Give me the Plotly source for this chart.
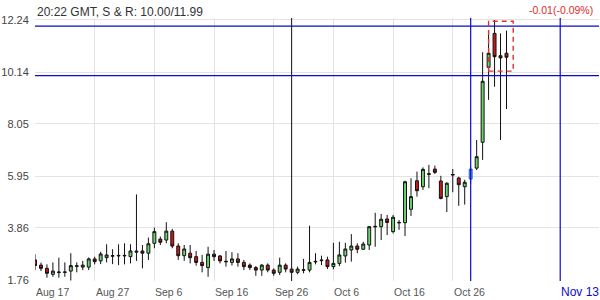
import pandas as pd
import plotly.graph_objects as go

# ---- data ----
start_date = "2023-08-17"
opens = [2.57, 2.36, 2.23, 1.99, 2.06, 2.07, 2.12, 2.31, 2.28, 2.28,
         2.61, 2.53, 2.66, 2.72, 2.73, 2.73, 2.70, 2.88, 2.93, 2.84,
         3.24, 3.41, 3.37, 3.73, 3.13, 2.74, 2.84, 2.70, 2.47, 2.26,
         2.80, 2.73, 2.49, 2.47, 2.61, 2.47, 2.36, 2.26, 2.16, 2.36,
         2.16, 2.07, 2.36, 2.20, 2.07, 2.15, 2.16, 2.49, 2.54, 2.57,
         2.30, 2.43, 2.73, 2.97, 3.13, 3.00, 3.17, 3.90, 3.91, 4.22,
         3.71, 4.06, 4.07, 4.61, 5.76, 5.52, 6.02, 6.23, 5.75, 5.12,
         5.99, 5.87, 5.52, 5.83, 6.27, 7.31, 10.33, 11.70, 10.80, 10.90]
highs = [2.80, 2.46, 2.39, 2.47, 2.66, 2.47, 2.84, 2.47, 2.53, 2.67,
         2.70, 2.90, 3.20, 3.00, 3.20, 3.24, 3.20, 5.21, 3.17, 3.47,
         3.87, 3.51, 4.09, 3.82, 3.24, 3.17, 3.17, 2.93, 2.77, 3.10,
         2.97, 2.77, 2.93, 2.88, 2.84, 2.57, 2.43, 2.32, 2.40, 2.43,
         2.23, 2.66, 2.43, 12.60, 2.30, 2.61, 3.95, 2.84, 2.74, 2.70,
         3.26, 3.30, 3.26, 3.61, 3.24, 3.30, 3.94, 4.47, 4.42, 4.38,
         4.38, 4.18, 5.76, 5.86, 6.13, 6.30, 6.40, 6.37, 5.96, 5.70,
         6.23, 5.92, 5.80, 6.30, 7.40, 10.94, 11.81, 12.24, 11.70, 11.81]
lows = [2.16, 2.12, 1.85, 1.89, 1.85, 1.89, 1.74, 2.07, 2.16, 2.16,
        2.39, 2.40, 2.47, 2.40, 2.36, 2.39, 2.43, 2.53, 2.23, 2.57,
        3.04, 3.17, 3.24, 3.04, 2.57, 2.53, 2.43, 2.34, 2.07, 1.89,
        2.53, 2.43, 2.30, 2.34, 2.30, 2.16, 2.16, 1.93, 1.93, 2.07,
        1.93, 1.96, 2.07, 1.70, 1.99, 2.03, 2.07, 2.39, 2.36, 2.20,
        2.19, 2.32, 2.46, 2.50, 2.84, 2.97, 2.97, 3.10, 3.37, 3.57,
        3.64, 3.78, 3.53, 4.34, 5.12, 5.39, 5.46, 6.03, 5.01, 4.50,
        5.30, 4.75, 4.80, 5.63, 6.19, 6.60, 9.02, 9.55, 7.40, 8.65]
closes = [2.34, 2.23, 2.03, 2.12, 2.08, 2.08, 2.34, 2.33, 2.36, 2.61,
          2.50, 2.81, 2.77, 2.74, 2.75, 2.75, 2.93, 2.92, 2.84, 3.22,
          3.71, 3.28, 3.73, 3.13, 2.74, 3.01, 2.66, 2.47, 2.34, 2.80,
          2.70, 2.53, 2.51, 2.61, 2.47, 2.30, 2.26, 2.16, 2.36, 2.16,
          2.03, 2.36, 2.20, 2.07, 2.20, 2.17, 2.47, 2.51, 2.56, 2.30,
          2.43, 2.77, 3.01, 3.13, 3.00, 3.21, 3.91, 3.92, 4.21, 4.08,
          4.29, 4.08, 5.72, 5.12, 5.36, 6.22, 6.04, 6.10, 5.05, 5.66,
          6.01, 5.60, 5.70, 6.23, 6.73, 9.77, 10.90, 10.76, 10.71, 10.74]

highlight_date = "2023-10-29"      # blue candle / vertical line
target_date = "2023-11-13"
support, resistance = 10.00, 11.99

y_ticks = [1.76, 3.86, 5.95, 8.05, 10.14, 12.24]
y_ticktext = ["1.76", "3.86", "5.95", "8.05", "10.14", "12.24"]
x_tick_dates = ["2023-08-17", "2023-08-27", "2023-09-06", "2023-09-16",
                "2023-09-26", "2023-10-06", "2023-10-16", "2023-10-26"]
x_tick_labels = ["Aug 17", "Aug 27", "Sep 6", "Sep 16", "Sep 26", "Oct 6", "Oct 16", "Oct 26"]
target_label = "Nov 13"

title_text = "20:22 GMT, S & R: 10.00/11.99"
change_text = "-0.01(-0.09%)"

box_x = ["2023-11-01", "2023-11-05 03:00"]
box_y = [10.18, 12.19]

# ---- build ----
dates = pd.date_range(start_date, periods=len(opens), freq="D")
hl = list(dates).index(pd.Timestamp(highlight_date))

def mask(arr, keep_idx=None, drop_idx=None):
    out = []
    for i, v in enumerate(arr):
        if keep_idx is not None:
            out.append(v if i == keep_idx else None)
        else:
            out.append(None if i == drop_idx else v)
    return out

FONT = "Liberation Sans, Arial, sans-serif"
fig = go.Figure()
fig.add_trace(go.Candlestick(
    x=dates, open=mask(opens, drop_idx=hl), high=mask(highs, drop_idx=hl),
    low=mask(lows, drop_idx=hl), close=mask(closes, drop_idx=hl),
    increasing=dict(line=dict(color="#111111", width=1), fillcolor="#6ed36e"),
    decreasing=dict(line=dict(color="#111111", width=1), fillcolor="#c81818"),
    showlegend=False, hoverinfo="skip"))
fig.add_trace(go.Candlestick(
    x=dates, open=mask(opens, keep_idx=hl), high=mask(highs, keep_idx=hl),
    low=mask(lows, keep_idx=hl), close=mask(closes, keep_idx=hl),
    increasing=dict(line=dict(color="#2a5fc8", width=1), fillcolor="#6aa6e6"),
    decreasing=dict(line=dict(color="#2a5fc8", width=1), fillcolor="#6aa6e6"),
    showlegend=False, hoverinfo="skip"))

x0 = pd.Timestamp(start_date)
x1 = x0 + pd.Timedelta(days=94.5)

BLUE = "#0a0acc"
fig.add_hline(y=support, line=dict(color=BLUE, width=1.2))
fig.add_hline(y=resistance, line=dict(color=BLUE, width=1.2))
fig.add_vline(x=pd.Timestamp(highlight_date).value / 1e6, line=dict(color=BLUE, width=1.2))
fig.add_vline(x=pd.Timestamp(target_date).value / 1e6, line=dict(color=BLUE, width=1.2))
fig.add_shape(type="rect", x0=box_x[0], x1=box_x[1], y0=box_y[0], y1=box_y[1],
              line=dict(color="#e03030", width=1.4, dash="5px,4px"))

for d, t in zip(x_tick_dates, x_tick_labels):
    fig.add_annotation(x=d, y=0, xref="x", yref="paper", text=t, showarrow=False,
                       xanchor="left", yanchor="top", yshift=-3, xshift=-1,
                       font=dict(family=FONT, size=10.5, color="#555555"))
fig.add_annotation(x=target_date, y=0, xref="x", yref="paper", text=target_label,
                   showarrow=False, xanchor="left", yanchor="top", yshift=-2, xshift=-1,
                   font=dict(family=FONT, size=12, color="#0a0acc"))
fig.add_annotation(x=0, y=1, xref="paper", yref="paper", text=title_text, showarrow=False,
                   xanchor="left", yanchor="middle", yshift=6,
                   font=dict(family=FONT, size=12, color="#333333"))
fig.add_annotation(x=1, y=1, xref="paper", yref="paper", text=change_text, showarrow=False,
                   xanchor="right", yanchor="middle", yshift=8, xshift=-4,
                   font=dict(family=FONT, size=10.5, color="#e02a2a"))

fig.update_layout(
    width=600, height=300,
    margin=dict(l=32, r=1, t=18, b=19),
    paper_bgcolor="white", plot_bgcolor="white",
    showlegend=False,
    font=dict(family=FONT),
    xaxis=dict(type="date", range=[x0, x1], rangeslider=dict(visible=False),
               tickvals=x_tick_dates, showticklabels=False, showgrid=True,
               gridcolor="#e3e3e3", gridwidth=1, zeroline=False, showline=False),
    yaxis=dict(range=[1.72, 12.32], tickvals=y_ticks, ticktext=y_ticktext,
               showgrid=True, gridcolor="#e3e3e3", zeroline=False, showline=False,
               tickfont=dict(family=FONT, size=11, color="#444444"),
               ticks="outside", ticklen=3, tickcolor="rgba(0,0,0,0)"),
)

fig.write_html("out.html")
